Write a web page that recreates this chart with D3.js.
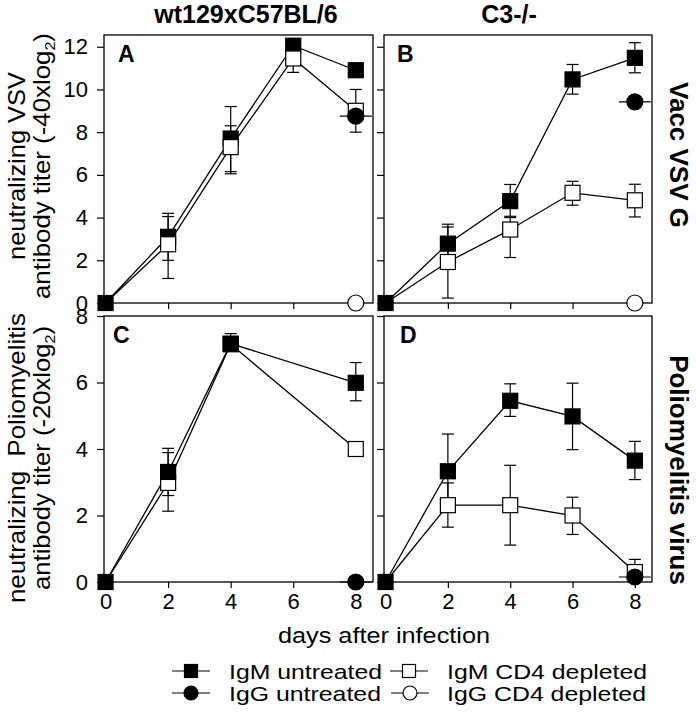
<!DOCTYPE html>
<html><head><meta charset="utf-8">
<script src="https://cdn.jsdelivr.net/npm/d3@7"></script>
<style>body{margin:0;background:#fff} text{font-family:"Liberation Sans",Arial,Helvetica,sans-serif;fill:#000}</style>
</head><body><svg id="c" width="696" height="719"></svg>
<script>
// ---------- data ----------
const days = [0, 2, 4, 6, 8];
const colTitles = ["wt129xC57BL/6", "C3-/-"];
const rowTitles = ["Vacc VSV G", "Poliomyelitis virus"];
const panelLetters = ["A", "B", "C", "D"];
const xTicks = [0, 2, 4, 6, 8];
const yTicksVSV = [0, 2, 4, 6, 8, 10, 12];
const yTicksPolio = [0, 2, 4, 6, 8];
const legendLabels = ["IgM untreated", "IgG untreated", "IgM CD4 depleted", "IgG CD4 depleted"];

// Panel A: wt, VSV
const A_igmUnt   = [0, 3.1, 7.7, 12.05, 10.9];
const A_igmUntLo = [null, 2.0, 6.15, null, null];
const A_igmUntHi = [null, 4.2, 9.2, null, null];
const A_igmCd4   = [0, 2.75, 7.3, 11.45, 9.0];
const A_igmCd4Lo = [null, 1.15, 6.05, 10.8, 8.0];
const A_igmCd4Hi = [null, 4.05, 8.3, 12.0, 10.0];
const A_iggUnt   = [null, null, null, null, 8.75];
const A_iggCd4   = [null, null, null, null, 0];

// Panel B: C3-/-, VSV
const B_igmUnt   = [0, 2.78, 4.77, 10.47, 11.48];
const B_igmUntLo = [null, 1.9, 4.06, 9.78, 10.78];
const B_igmUntHi = [null, 3.69, 5.55, 11.17, 12.19];
const B_igmCd4   = [0, 1.92, 3.44, 5.16, 4.81];
const B_igmCd4Lo = [null, 0.23, 2.13, 4.58, 4.03];
const B_igmCd4Hi = [null, 3.56, 4.0, 5.7, 5.56];
const B_iggUnt   = [null, null, null, null, 9.42];
const B_iggCd4   = [null, null, null, null, 0];

// Panel C: wt, Polio
const C_igmUnt   = [0, 3.31, 7.17, null, 5.99];
const C_igmUntLo = [null, 2.6, 7.0, null, 5.45];
const C_igmUntHi = [null, 4.02, 7.47, null, 6.6];
const C_igmCd4   = [0, 2.98, 7.15, null, 4.0];
const C_igmCd4Lo = [null, 2.13, null, null, null];
const C_igmCd4Hi = [null, 3.89, null, null, null];
const C_iggUnt   = [null, null, null, null, 0];
const C_iggCd4   = [null, null, null, null, null];

// Panel D: C3-/-, Polio
const D_igmUnt   = [0, 3.33, 5.45, 4.98, 3.65];
const D_igmUntLo = [null, 2.2, 4.98, 3.98, 3.08];
const D_igmUntHi = [null, 4.45, 5.96, 5.98, 4.23];
const D_igmCd4   = [0, 2.31, 2.31, 2.0, 0.3];
const D_igmCd4Lo = [null, 1.65, 1.11, 1.43, 0.1];
const D_igmCd4Hi = [null, 2.98, 3.51, 2.55, 0.68];
const D_iggUnt   = [null, null, null, null, 0.15];
const D_iggCd4   = [null, null, null, null, null];

// ---------- layout ----------
const svg = d3.select("#c");
const cols = [[104, 373], [384, 652]];
const rows = [[35, 303], [316, 582]];
const yMax = [12.55, 8];
const xDomain = [-0.05, 8.55];

const panels = [
  {c:0, r:0, letter:panelLetters[0], lx:118, ly:62, filledTop:false, m:A_igmUnt, mLo:A_igmUntLo, mHi:A_igmUntHi, o:A_igmCd4, oLo:A_igmCd4Lo, oHi:A_igmCd4Hi, g:A_iggUnt, go:A_iggCd4},
  {c:1, r:0, letter:panelLetters[1], lx:397, ly:62, filledTop:false, m:B_igmUnt, mLo:B_igmUntLo, mHi:B_igmUntHi, o:B_igmCd4, oLo:B_igmCd4Lo, oHi:B_igmCd4Hi, g:B_iggUnt, go:B_iggCd4},
  {c:0, r:1, letter:panelLetters[2], lx:113, ly:343, filledTop:true, m:C_igmUnt, mLo:C_igmUntLo, mHi:C_igmUntHi, o:C_igmCd4, oLo:C_igmCd4Lo, oHi:C_igmCd4Hi, g:C_iggUnt, go:C_iggCd4},
  {c:1, r:1, letter:panelLetters[3], lx:400, ly:343, filledTop:false, m:D_igmUnt, mLo:D_igmUntLo, mHi:D_igmUntHi, o:D_igmCd4, oLo:D_igmCd4Lo, oHi:D_igmCd4Hi, g:D_iggUnt, go:D_iggCd4}
];

const SQ = 15, CR = 8, CAP = 6;

panels.forEach(p => {
  const [x0, x1] = cols[p.c], [y0, y1] = rows[p.r];
  const x = d3.scaleLinear().domain(xDomain).range([x0, x1]);
  const y = d3.scaleLinear().domain([0, yMax[p.r]]).range([y1, y0]);
  const g = svg.append("g");

  const ya = d3.axisLeft(y).tickValues(p.r === 0 ? yTicksVSV : yTicksPolio).tickSize(7).tickPadding(9);
  if (p.c === 1) ya.tickFormat("");
  const yg = g.append("g").attr("transform", `translate(${x0},0)`).call(ya);
  const xa = d3.axisBottom(x).tickValues(xTicks).tickSize(6).tickPadding(5);
  if (p.r === 0) xa.tickFormat("");
  const xg = g.append("g").attr("transform", `translate(0,${y1})`).call(xa);
  [yg, xg].forEach(a => {
    a.select(".domain").remove();
    a.selectAll(".tick line").attr("stroke", "#000").attr("stroke-width", 1.2);
    a.selectAll(".tick text").attr("font-size", 22).attr("font-family", "Liberation Sans, Arial, sans-serif").attr("fill", "#000");
  });

  g.append("rect").attr("x", x0).attr("y", y0).attr("width", x1 - x0).attr("height", y1 - y0)
    .attr("fill", "none").attr("stroke", "#000").attr("stroke-width", 1.3);

  g.append("text").attr("x", p.lx).attr("y", p.ly).attr("font-size", 23).attr("font-weight", "bold").text(p.letter);

  const pts = (vals, lo, hi) => days.map((d, i) => ({d, v: vals[i], lo: lo ? lo[i] : null, hi: hi ? hi[i] : null})).filter(e => e.v !== null);
  const M = pts(p.m, p.mLo, p.mHi), O = pts(p.o, p.oLo, p.oHi), G = pts(p.g), GO = pts(p.go);

  const line = d3.line().x(e => x(e.d)).y(e => y(e.v));
  [M, O].forEach(s => g.append("path").attr("d", line(s)).attr("fill", "none").attr("stroke", "#000").attr("stroke-width", 1.3));

  const eb = [];
  [M, O].forEach(s => s.forEach(e => {
    if (e.lo !== null) eb.push({d: e.d, a: e.v, b: e.lo});
    if (e.hi !== null) eb.push({d: e.d, a: e.v, b: e.hi});
  }));
  eb.forEach(e => {
    g.append("line").attr("x1", x(e.d)).attr("x2", x(e.d)).attr("y1", y(e.a)).attr("y2", y(e.b)).attr("stroke", "#000").attr("stroke-width", 1.2);
    g.append("line").attr("x1", x(e.d) - CAP).attr("x2", x(e.d) + CAP).attr("y1", y(e.b)).attr("y2", y(e.b)).attr("stroke", "#000").attr("stroke-width", 1.2);
  });

  const square = (s, fill) => g.selectAll(null).data(s).enter().append("rect")
    .attr("x", e => x(e.d) - SQ / 2).attr("y", e => y(e.v) - SQ / 2).attr("width", SQ).attr("height", SQ)
    .attr("fill", fill).attr("stroke", "#000").attr("stroke-width", 1.2);
  if (p.filledTop) {
    square(O.filter(e => e.d > 0), "#fff");
    square(M.filter(e => e.d > 0), "#000");
  } else {
    square(M.filter(e => e.d > 0), "#000");
    square(O.filter(e => e.d > 0), "#fff");
  }

  G.forEach(e => g.append("line").attr("x1", x(e.d) - 16).attr("x2", x(e.d) + 16).attr("y1", y(e.v)).attr("y2", y(e.v)).attr("stroke", "#000").attr("stroke-width", 1.2));
  g.selectAll(null).data(G).enter().append("circle").attr("cx", e => x(e.d)).attr("cy", e => y(e.v)).attr("r", CR)
    .attr("fill", "#000").attr("stroke", "#000").attr("stroke-width", 1.2);
  g.selectAll(null).data(GO).enter().append("circle").attr("cx", e => x(e.d)).attr("cy", e => y(e.v)).attr("r", CR)
    .attr("fill", "#fff").attr("stroke", "#000").attr("stroke-width", 1.2);

  square(M.filter(e => e.d === 0), "#000");
});

// column titles
svg.append("text").attr("x", 246).attr("y", 23).attr("text-anchor", "middle").attr("font-size", 25).attr("font-weight", "bold").text(colTitles[0]);
svg.append("text").attr("x", 509).attr("y", 23).attr("text-anchor", "middle").attr("font-size", 25).attr("font-weight", "bold").text(colTitles[1]);

// row titles (right, rotated)
[[155, rowTitles[0]], [470, rowTitles[1]]].forEach(([cy, t]) => {
  svg.append("text").attr("transform", `translate(670,${cy}) rotate(90)`).attr("text-anchor", "middle")
    .attr("font-size", 26).attr("font-weight", "bold").text(t);
});

// y titles (left, rotated)
function yTitle(cy, l1, len1, l2main, l2sub, len2) {
  svg.append("text").attr("transform", `translate(25,${cy}) rotate(-90)`).attr("text-anchor", "middle").attr("font-size", 24)
    .attr("textLength", len1).attr("lengthAdjust", "spacingAndGlyphs").text(l1);
  const t = svg.append("text").attr("transform", `translate(50,${cy}) rotate(-90)`).attr("text-anchor", "middle").attr("font-size", 24)
    .attr("textLength", len2).attr("lengthAdjust", "spacingAndGlyphs");
  t.append("tspan").text(l2main);
  t.append("tspan").attr("font-size", 15).attr("dy", 5).text(l2sub);
  t.append("tspan").attr("dy", -5).text(")");
}
yTitle(166, "neutralizing VSV", 188, "antibody titer (-40xlog", "2", 266);
yTitle(458, "neutralizing\u00a0 Poliomyelitis", 290, "antibody titer (-20xlog", "2", 264);

// x title
svg.append("text").attr("x", 384).attr("y", 643).attr("text-anchor", "middle").attr("font-size", 22)
  .attr("textLength", 212).attr("lengthAdjust", "spacingAndGlyphs").text("days after infection");

// legend
const legend = [
  {sx: 191, tx: 229, y: 671, w: 153, type: "sq", fill: "#000", label: legendLabels[0]},
  {sx: 191, tx: 229, y: 693, w: 152, type: "ci", fill: "#000", label: legendLabels[1]},
  {sx: 409, tx: 447, y: 671, w: 200, type: "sq", fill: "#fff", label: legendLabels[2]},
  {sx: 410, tx: 447, y: 693, w: 199, type: "ci", fill: "#fff", label: legendLabels[3]}
];
legend.forEach(l => {
  svg.append("line").attr("x1", l.sx - 19).attr("x2", l.sx + 19).attr("y1", l.y).attr("y2", l.y).attr("stroke", "#000").attr("stroke-width", 1.2);
  if (l.type === "sq") svg.append("rect").attr("x", l.sx - 6.5).attr("y", l.y - 6.5).attr("width", 13).attr("height", 13).attr("fill", l.fill).attr("stroke", "#000").attr("stroke-width", 1.2);
  else svg.append("circle").attr("cx", l.sx).attr("cy", l.y).attr("r", 7).attr("fill", l.fill).attr("stroke", "#000").attr("stroke-width", 1.2);
  svg.append("text").attr("x", l.tx).attr("y", l.y + 8).attr("font-size", 21)
    .attr("textLength", l.w).attr("lengthAdjust", "spacingAndGlyphs").text(l.label);
});
</script></body></html>
